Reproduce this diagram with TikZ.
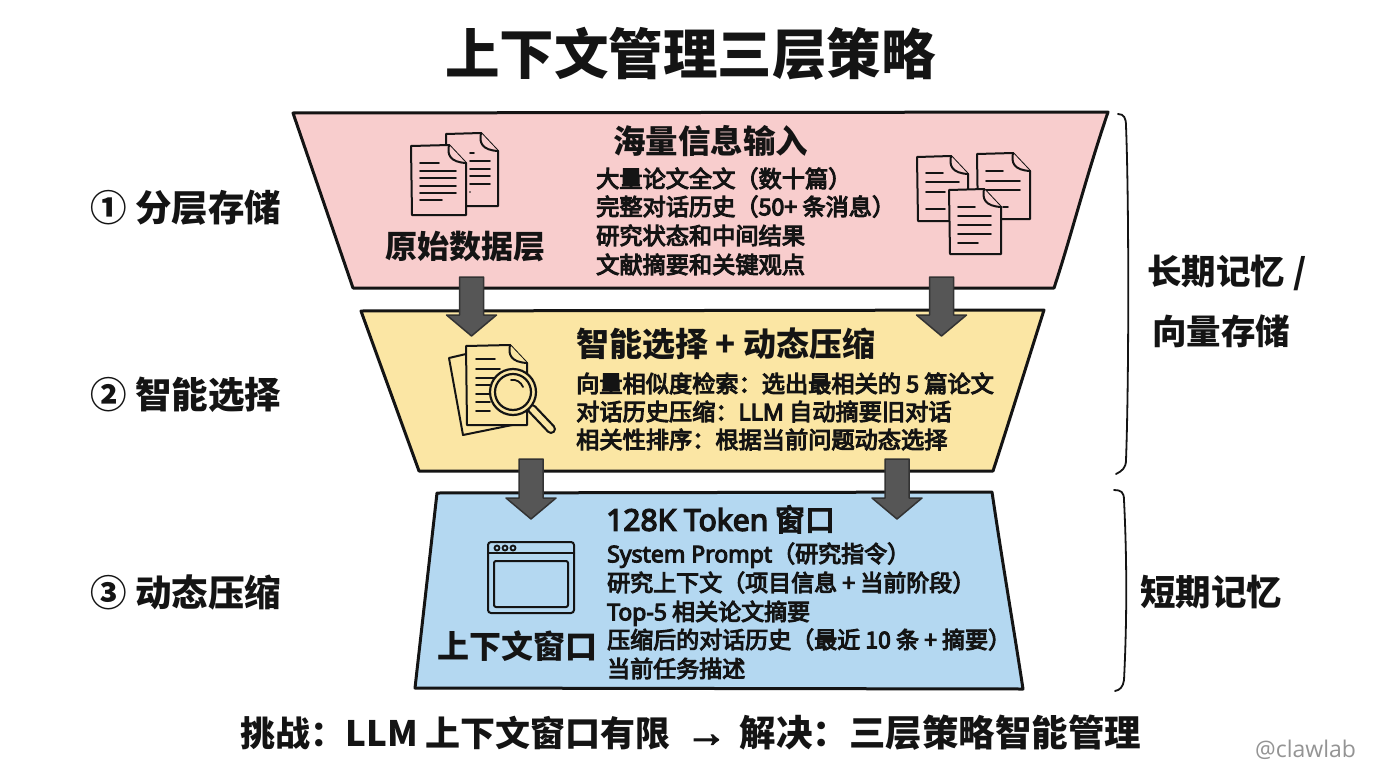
\documentclass[tikz,border=0pt]{standalone}
\usepackage{fontspec}
\usetikzlibrary{calc}
\setmainfont{Noto Sans CJK SC}
\newfontfamily\wmfont{Open Sans}
\newfontfamily\bodyf[FakeBold=4.5]{Noto Sans CJK SC}
\newfontfamily\latf[FakeBold=4.5]{Noto Sans}
\newfontfamily\arrowf[FakeBold=3]{Liberation Sans}
\newcommand\la[1]{{\latf #1}}
\definecolor{pinkfill}{HTML}{F8CDCD}
\definecolor{yellowfill}{HTML}{FBE6A4}
\definecolor{bluefill}{HTML}{B4D8F1}
\definecolor{inkc}{HTML}{141414}
\definecolor{arrowfill}{HTML}{565656}
\definecolor{arrowline}{HTML}{333333}
\tikzset{
  layer/.style={draw=inkc,line width=3pt,line join=round},
  fatarrow/.style={draw=arrowline,fill=arrowfill,line width=1.5pt,line join=round},
  icon/.style={draw=inkc,line width=2pt,line join=round,line cap=round},
  iconthin/.style={draw=inkc,line width=1.8pt,line cap=round},
  bracket/.style={draw=inkc,line width=1.8pt,line cap=round},
  label/.style={anchor=base west,inner sep=0pt,text=inkc,font=\bfseries},
  bodytext/.style={anchor=base west,inner sep=0pt,text=inkc,font=\bodyf},
}
% name, x, centre y, size, text
\newcommand\tx[5]{\node[label] (#1) at (#2,#3+0.36*#4) {\fontsize{#4}{#4}\selectfont #5};}
\newcommand\bx[5]{\node[bodytext] (#1) at (#2,#3+0.36*#4) {\fontsize{#4}{#4}\selectfont #5};}
% connector between two named coordinates
\newcommand\fatconn[2]{\draw[fatarrow] ($(#1)+(-12,0)$) -- ($(#2 |- #1)+(12,0)$) -- ($(#2)+(12,-21)$) -- ($(#2)+(25,-21)$) -- (#2) -- ($(#2)+(-25,-21)$) -- ($(#2)+(-12,-21)$) -- cycle;}
% fill, x0, y0, x1, y1
\newcommand\docpage[5]{\draw[icon,fill=#1] (#2,#3+1) -- (#4-17,#3) -- (#4,#3+18) -- (#4,#5) -- (#2+1,#5) -- cycle;
  \draw[icon,fill=#1] (#4-17,#3) .. controls (#4-19,#3+10) and (#4-16,#3+17) .. (#4,#3+18);}
\newcommand\doclines[3]{\foreach \yy/\xe in {#3} {\draw[iconthin] (#1,\yy) -- (\xe,\yy);}}
\begin{document}
\begin{tikzpicture}[x=1pt,y=-1pt]
\useasboundingbox (0,0) rectangle (1376,768);
\fill[white] (0,0) rectangle (1376,768);

\tx{title}{445}{55}{54.5}{上下文管理三层策略}

% layers
\draw[layer,fill=pinkfill] (293,113) -- (1108,112) .. controls (1085,180) and (1070,240) .. (1054,288) -- (353,288) -- cycle;
\draw[layer,fill=yellowfill] (361,311) -- (1044,310) .. controls (1025,370) and (1008,425) .. (993,471) -- (419,471) -- cycle;
\draw[layer,fill=bluefill] (437,493) -- (992,492) .. controls (1002,560) and (1014,630) .. (1023,689) -- (415,688) -- cycle;

% connectors
\coordinate (a1s) at (471.5,277); \coordinate (a1e) at (471.5,336);
\coordinate (a2s) at (941.5,277); \coordinate (a2e) at (941.5,336);
\coordinate (a3s) at (531,459);   \coordinate (a3e) at (531,519);
\coordinate (a4s) at (897,459);   \coordinate (a4e) at (897,519);
\fatconn{a1s}{a1e}
\fatconn{a2s}{a2e}
\fatconn{a3s}{a3e}
\fatconn{a4s}{a4e}

% pink icons
\docpage{pinkfill}{446}{133}{498}{206}
\doclines{470}{0}{153/474,161/490,169/490,176/490,184/490,192/470}
\docpage{pinkfill}{411}{145}{466}{215}
\doclines{420}{0}{163/439,171/456,178/456,186/456,193/456,200/442}

\docpage{pinkfill}{917}{156}{968}{221}
\doclines{926}{0}{173/943,182/959,192/945,209/945}
\docpage{pinkfill}{977}{153}{1030}{219}
\doclines{986}{0}{171/1003,181/1020,190/1020}
\draw[iconthin] (1003,207) -- (1008,207);
\docpage{pinkfill}{949}{189}{1001}{254}
\doclines{958}{0}{207/975,216/991,225/991,234/991,243/978}

% yellow icon
\draw[icon,fill=yellowfill] (449,358) -- (466,354) -- (527,422) -- (463,435) -- cycle;
\docpage{yellowfill}{466}{345}{527}{425}
\doclines{476}{0}{359/495,369/500,378/500,385/490,394/490,402/490,411/490}
\draw[draw=inkc,line width=10pt,line cap=round] (532,409) -- (551,429);
\draw[draw=yellowfill,line width=5.5pt,line cap=round] (532,409) -- (551,429);
\draw[icon,fill=yellowfill,line width=2.2pt] (513,392) circle (23);
\draw[icon,line width=2.2pt] (513,392) circle (18);
\draw[iconthin] (511,380) .. controls (516,379) and (521,382) .. (523,387);

% blue icon
\draw[icon,rounded corners=3pt] (488,542) rectangle (574,613);
\draw[icon] (488,553) -- (574,553);
\draw[icon,rounded corners=2pt] (494,561) rectangle (568,607);
\foreach \dx in {497,505,513} {\draw[iconthin] (\dx,548) circle (2.5);}

% layer texts
\tx{h1}{613}{142}{32.5}{海量信息输入}
\tx{n1}{385}{247}{32}{原始数据层}
\bx{p1}{596}{179}{23.2}{大量论文全文（数十篇）}
\bx{p2}{596}{207}{23.2}{完整对话历史（50+ 条消息）}
\bx{p3}{596}{236}{23.2}{研究状态和中间结果}
\bx{p4}{596}{265}{23.2}{文献摘要和关键观点}

\tx{h2}{576}{345}{33}{智能选择 + 动态压缩}
\bx{y1}{576}{384}{23.2}{向量相似度检索：选出最相关的 5 篇论文}
\bx{y2}{576}{412}{23.2}{对话历史压缩：\la{LLM} 自动摘要旧对话}
\bx{y3}{576}{440}{23.2}{相关性排序：根据当前问题动态选择}

\bx{h3}{606}{520}{30}{\la{128K Token} 窗口}
\tx{n3}{437}{647}{32}{上下文窗口}
\bx{b1}{607}{554}{23}{\la{System Prompt}（研究指令）}
\bx{b2}{607}{583}{23}{研究上下文（项目信息 + 当前阶段）}
\bx{b3}{607}{612}{23}{\la{Top-5} 相关论文摘要}
\bx{b4}{607}{640}{23}{压缩后的对话历史（最近 10 条 + 摘要）}
\bx{b5}{607}{669}{23}{当前任务描述}

% side labels
\tx{s1}{90}{208}{36.5}{① 分层存储}
\tx{s2}{90}{395}{36.5}{② 智能选择}
\tx{s3}{90}{593}{36.5}{③ 动态压缩}

% brackets
\draw[bracket] (1118,114) .. controls (1124,114) and (1126,118) .. (1126,126) .. controls (1129,200) and (1129,380) .. (1126,460) .. controls (1126,468) and (1122,471) .. (1116,474);
\draw[bracket] (1114,490) .. controls (1121,490) and (1124,492) .. (1124,500) .. controls (1127,560) and (1127,620) .. (1124,680) .. controls (1123,687) and (1120,690) .. (1115,691);

\tx{r1}{1147}{272}{34.5}{长期记忆 /}
\tx{r2}{1152}{332}{34.5}{向量存储}
\tx{r3}{1140}{593}{35.5}{短期记忆}

\tx{foot}{240}{734}{35}{挑战：LLM 上下文窗口有限\hspace{15pt}{\arrowf\fontsize{41}{41}\selectfont →}\hspace{13pt}\fontsize{36.5}{36.5}\selectfont 解决：三层策略智能管理}
\node[anchor=base west,inner sep=0pt,text=black!42] (wm) at (1255,757) {\wmfont\fontsize{23}{23}\selectfont @clawlab};
\end{tikzpicture}
\end{document}
